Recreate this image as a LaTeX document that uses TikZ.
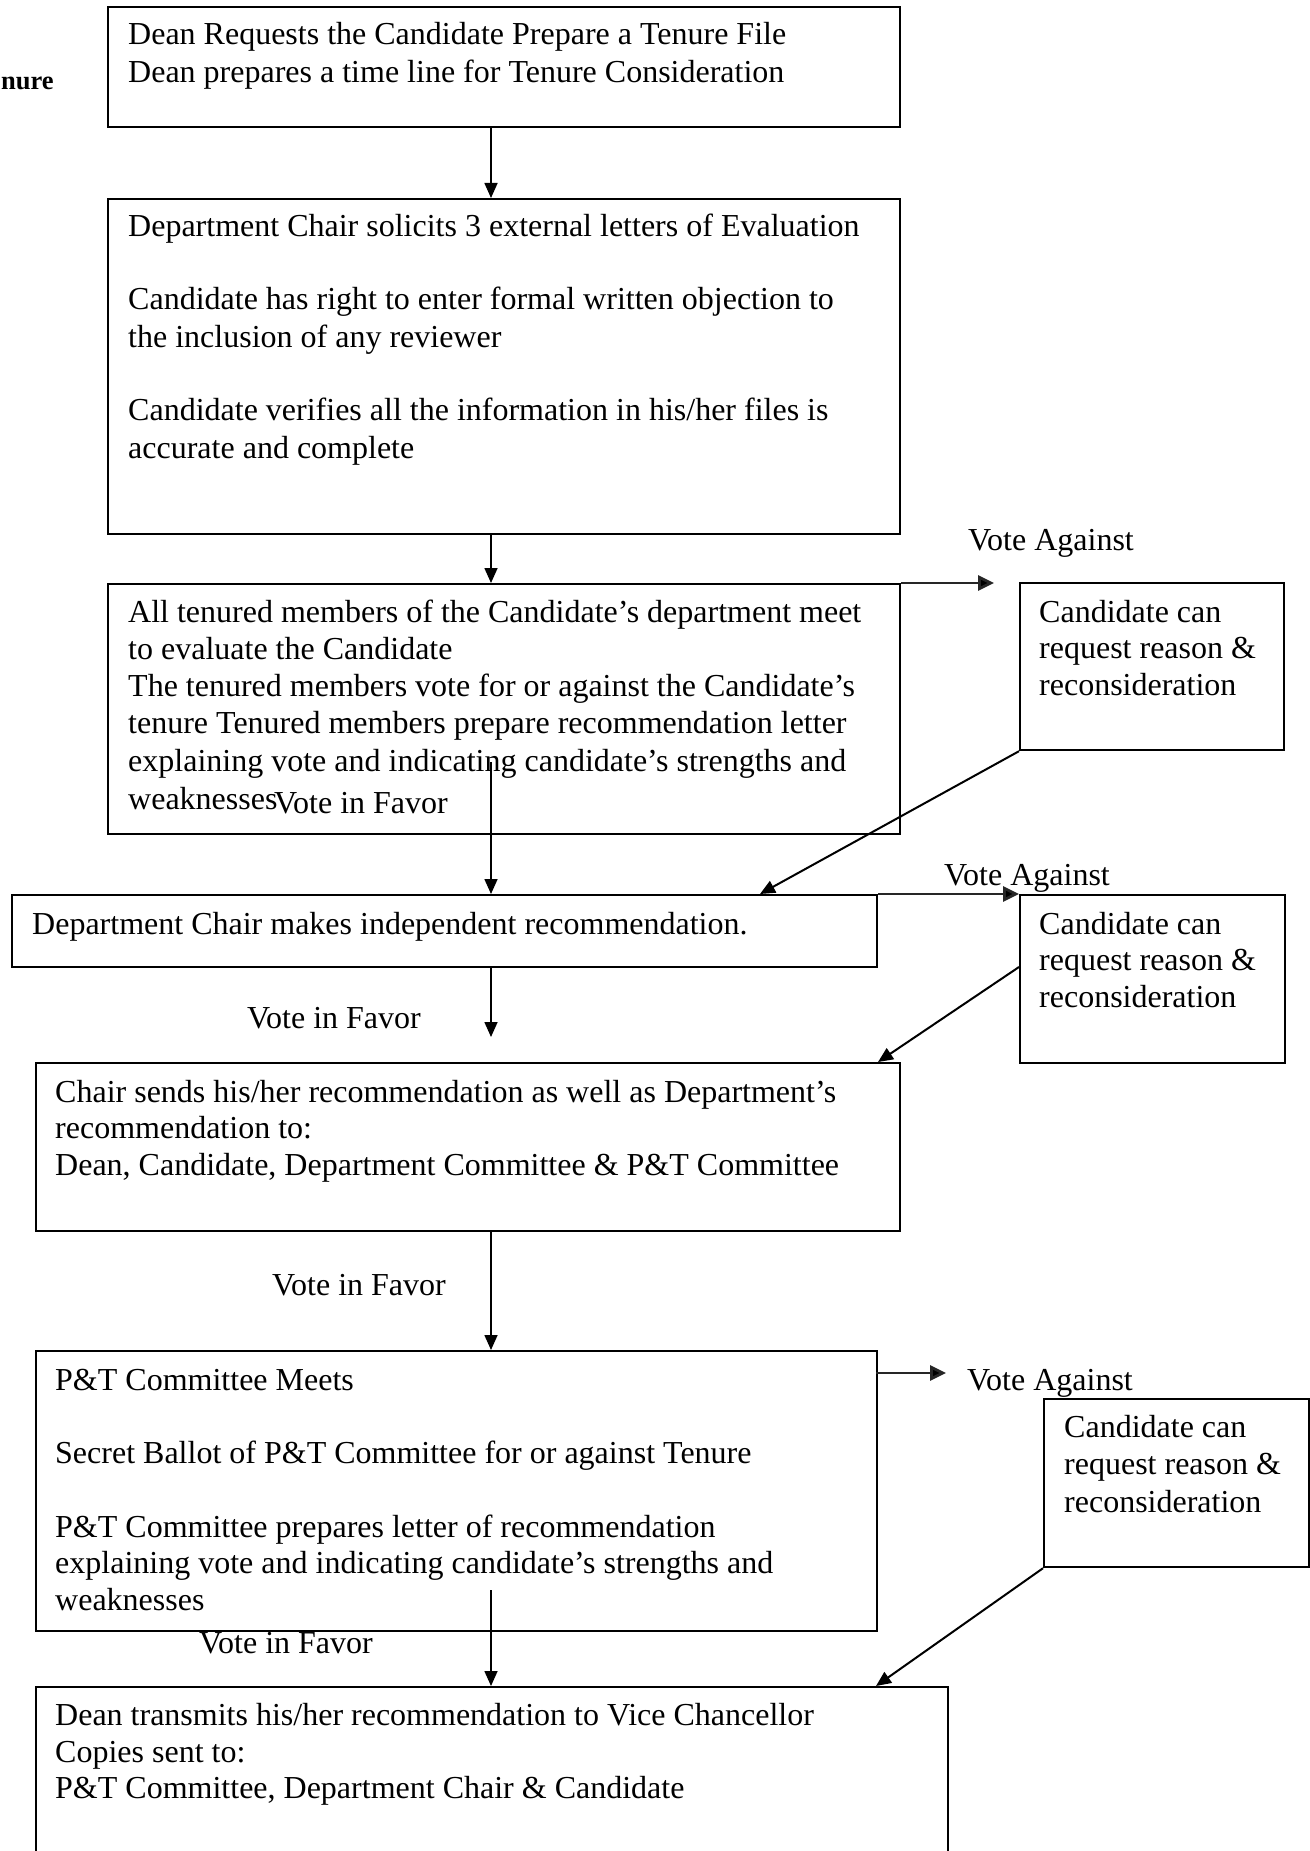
\documentclass[tikz,border=0pt]{standalone}
\usepackage{fontspec}
\setmainfont{Liberation Serif}
\usetikzlibrary{arrows.meta}
\begin{document}
\begin{tikzpicture}[x=1pt,y=-1pt,
  box/.style={draw=black, line width=2.2pt, rectangle, inner sep=0pt, anchor=north west},
  txt/.style={anchor=base west, inner sep=0pt, font=\fontsize{32pt}{37pt}\selectfont},
  arr/.style={line width=1.6pt, -{Triangle[length=15pt,width=13pt]}},
  harr/.style={line width=2.8pt, draw=black!85, -{Triangle[length=16pt,width=15pt,fill=black]}},
  darr/.style={line width=2pt, -{Triangle[length=15pt,width=13pt]}}
]
\useasboundingbox (0,0) rectangle (1309,1851);
\fill[white] (0,0) rectangle (1309,1851);

% axis for vertical arrows
\coordinate (ax) at (491,0);

% main boxes
\node[box, minimum width=792pt, minimum height=120pt] (b1) at (107,6) {};
\node[box, minimum width=792pt, minimum height=335pt] (b2) at (107,198) {};
\node[box, minimum width=792pt, minimum height=250pt] (b3) at (107,583) {};
\node[box, minimum width=865pt, minimum height=72pt] (b4) at (11,894) {};
\node[box, minimum width=864pt, minimum height=168pt] (b5) at (35,1062) {};
\node[box, minimum width=841pt, minimum height=280pt] (b6) at (35,1350) {};
\node[box, minimum width=912pt, minimum height=175pt] (b7) at (35,1686) {};

% side boxes
\node[box, minimum width=264pt, minimum height=167pt] (sA) at (1019,582) {};
\node[box, minimum width=265pt, minimum height=168pt] (sB) at (1019,894) {};
\node[box, minimum width=265pt, minimum height=168pt] (sC) at (1043,1398) {};

% stray title fragment
\node[anchor=base west, inner sep=0pt, font=\fontsize{26.5pt}{32pt}\selectfont\bfseries] (ttl) at (1,90) {nure};

% box 1 text
\node[txt] (t1a) at (128,45) {Dean Requests the Candidate Prepare a Tenure File};
\node[txt] (t1b) at (128,83) {Dean prepares a time line for Tenure Consideration};

% box 2 text
\node[txt] (t2a) at (128,237) {Department Chair solicits 3 external letters of Evaluation};
\node[txt] (t2b) at (128,310) {Candidate has right to enter formal written objection to};
\node[txt] (t2c) at (128,347) {the inclusion of any reviewer};
\node[txt] (t2d) at (128,420) {Candidate verifies all the information in his/her files is};
\node[txt] (t2e) at (128,458) {accurate and complete};

% box 3 text
\node[txt] (t3a) at (128,622) {All tenured members of the Candidate’s department meet};
\node[txt] (t3b) at (128,659) {to evaluate the Candidate};
\node[txt] (t3c) at (128,696) {The tenured members vote for or against the Candidate’s};
\node[txt] (t3d) at (128,733) {tenure Tenured members prepare recommendation letter};
\node[txt] (t3e) at (128,771) {explaining vote and indicating candidate’s strengths and};
\node[txt] (t3f) at (128,809) {weaknesses};
\node[txt] (vf1) at (274,813) {Vote in Favor};

% box 4 text
\node[txt] (t4a) at (32,934) {Department Chair makes independent recommendation.};

% box 5 text
\node[txt] (t5a) at (55,1102) {Chair sends his/her recommendation as well as Department’s};
\node[txt] (t5b) at (55,1138) {recommendation to:};
\node[txt] (t5c) at (55,1175) {Dean, Candidate, Department Committee \& P\&T Committee};

% box 6 text
\node[txt] (t6a) at (55,1390) {P\&T Committee Meets};
\node[txt] (t6b) at (55,1463) {Secret Ballot of P\&T Committee for or against Tenure};
\node[txt] (t6c) at (55,1537) {P\&T Committee prepares letter of recommendation};
\node[txt] (t6d) at (55,1573) {explaining vote and indicating candidate’s strengths and};
\node[txt] (t6e) at (55,1610) {weaknesses};

% box 7 text
\node[txt] (t7a) at (55,1725) {Dean transmits his/her recommendation to Vice Chancellor};
\node[txt] (t7b) at (55,1762) {Copies sent to:};
\node[txt] (t7c) at (55,1798) {P\&T Committee, Department Chair \& Candidate};

% side box texts
\node[txt] (sAa) at (1039,622) {Candidate can};
\node[txt] (sAb) at (1039,658) {request reason \&};
\node[txt] (sAc) at (1039,695) {reconsideration};
\node[txt] (sBa) at (1039,934) {Candidate can};
\node[txt] (sBb) at (1039,970) {request reason \&};
\node[txt] (sBc) at (1039,1007) {reconsideration};
\node[txt] (sCa) at (1064,1437) {Candidate can};
\node[txt] (sCb) at (1064,1474) {request reason \&};
\node[txt] (sCc) at (1064,1512) {reconsideration};

% labels
\node[txt] (va1) at (968,550) {Vote Against};
\node[txt] (va2) at (944,885) {Vote Against};
\node[txt] (va3) at (967,1390) {Vote Against};
\node[txt] (vf2) at (247,1028) {Vote in Favor};
\node[txt] (vf3) at (272,1295) {Vote in Favor};
\node[txt] (vf4) at (199,1653) {Vote in Favor};

% free ends
\coordinate (s3) at (491,762);
\coordinate (e4) at (491,1037);
\coordinate (s6) at (491,1590);
\coordinate (eA) at (994,583);
\coordinate (sC6) at (876,1373);
\coordinate (eC6) at (946,1373);
\coordinate (dA) at (760,894);
\coordinate (sBw) at (1019,967);
\coordinate (dB) at (878,1062);
\coordinate (dC) at (876,1686);

% vertical arrows
\draw[arr] (b1.south -| ax) -- (b2.north -| ax);
\draw[arr] (b2.south -| ax) -- (b3.north -| ax);
\draw[arr] (s3) -- (b4.north -| ax);
\draw[arr] (b4.south -| ax) -- (e4);
\draw[arr] (b5.south -| ax) -- (b6.north -| ax);
\draw[arr] (s6) -- (b7.north -| ax);

% vote against arrows
\draw[harr] (b3.north east) -- (eA);
\draw[harr] (b4.north east) -- (sB.north west);
\draw[harr] (sC6) -- (eC6);

% reconsideration arrows
\draw[darr] (sA.south west) -- (dA);
\draw[darr] (sBw) -- (dB);
\draw[darr] (sC.south west) -- (dC);
\end{tikzpicture}
\end{document}
